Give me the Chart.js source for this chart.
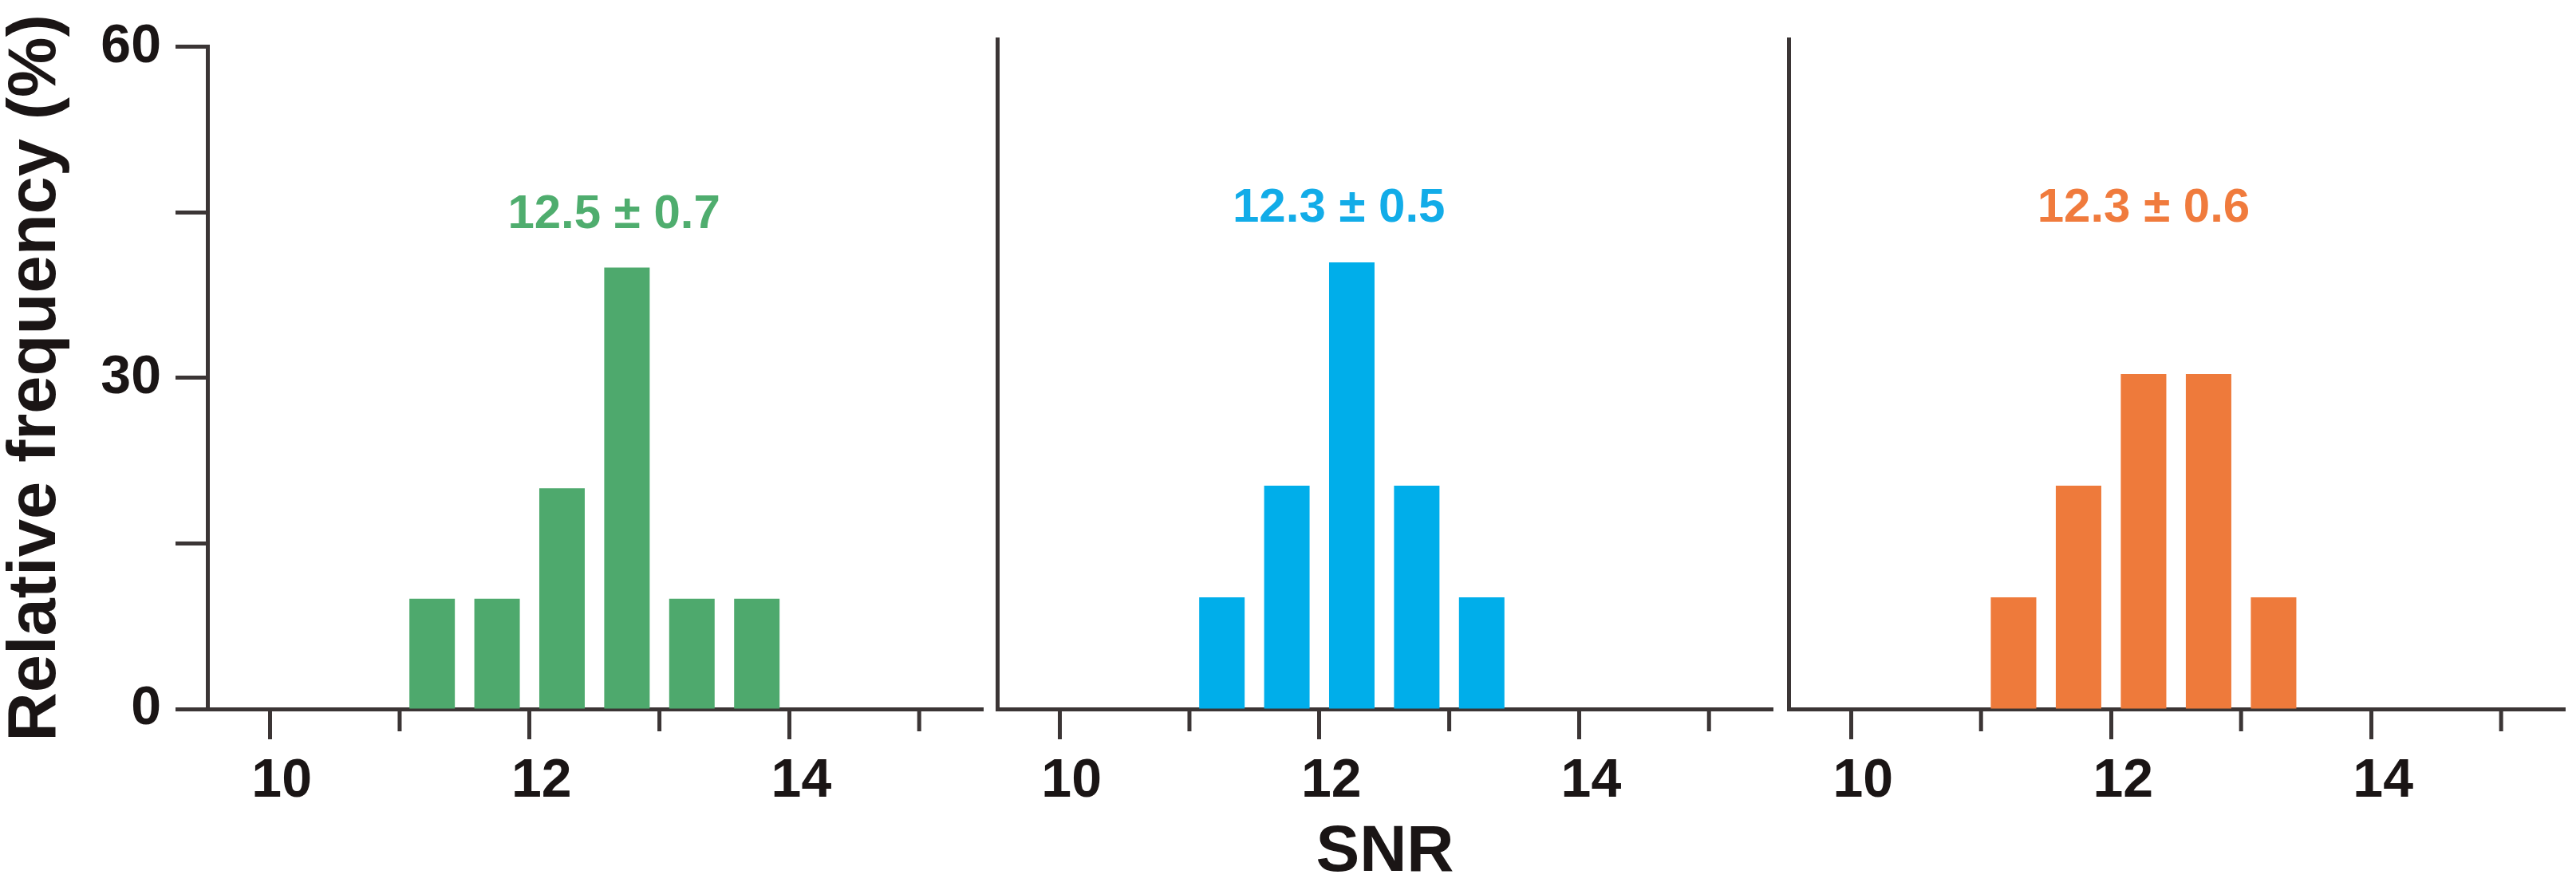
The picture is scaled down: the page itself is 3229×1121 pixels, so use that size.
<!DOCTYPE html>
<html>
<head>
<meta charset="utf-8">
<script src="https://cdn.jsdelivr.net/npm/chart.js@4.4.1/dist/chart.umd.min.js"></script>
<style>
  body { margin: 0; background: #fff; }
  #wrap { position: relative; width: 3229px; height: 1121px; background: #fff; }
  canvas { position: absolute; top: 0; }
</style>
</head>
<body>
<div id="wrap">
  <canvas id="c1" width="1240" height="1121" style="left:0px"></canvas>
  <canvas id="c2" width="990" height="1121" style="left:1240px"></canvas>
  <canvas id="c3" width="999" height="1121" style="left:2230px"></canvas>
</div>
<script>
// bin centres (SNR), bins are 0.5 wide
const snrBins = [11.25, 11.75, 12.25, 12.75, 13.25, 13.75];
const freqGreen = [10, 10, 20, 40, 10, 10];
const freqBlue = [10, 20, 40, 20, 10, 0];
const freqOrange = [10, 20, 30, 30, 10, 0];
const statText = ['12.5 ± 0.7', '12.3 ± 0.5', '12.3 ± 0.6'];
const snrTicks = [10, 11, 12, 13, 14, 15];
const freqTicks = [0, 15, 30, 45, 60];

const AXIS = '#3b3535';
const FONT = "'Liberation Sans', Arial, Helvetica, sans-serif";

// odd SNR ticks are shorter than the labelled ones
const minorTicks = {
    id: 'minorTicks',
    afterDraw(chart) {
        const x = chart.scales.x;
        const ctx = chart.ctx;
        const y0 = chart.chartArea.bottom;
        ctx.save();
        ctx.strokeStyle = AXIS;
        ctx.lineWidth = 5;
        snrTicks.filter(v => v % 2).forEach(v => {
            const px = x.getPixelForValue(v);
            ctx.beginPath();
            ctx.moveTo(px, y0);
            ctx.lineTo(px, y0 + 28);
            ctx.stroke();
        });
        ctx.restore();
    }
};

// mean ± sd above the histogram
const statLabel = {
    id: 'statLabel',
    afterDatasetsDraw(chart, args, opts) {
        const ctx = chart.ctx;
        ctx.save();
        ctx.font = 'bold 60px ' + FONT;
        ctx.fillStyle = opts.color;
        ctx.textAlign = 'center';
        ctx.textBaseline = 'middle';
        ctx.fillText(opts.text, chart.scales.x.getPixelForValue(opts.x), chart.scales.y.getPixelForValue(opts.y));
        ctx.restore();
    }
};

function makePanel(id, values, barColor, textColor, text, textX, p) {
    const ctx = document.getElementById(id).getContext('2d');
    return new Chart(ctx, {
        type: 'bar',
        data: {
            datasets: [{
                data: snrBins.map((b, i) => ({ x: b, y: values[i] })),
                backgroundColor: barColor,
                borderWidth: 0,
                barPercentage: 0.875,
                categoryPercentage: 0.8
            }]
        },
        plugins: [minorTicks, statLabel],
        options: {
            responsive: false,
            animation: false,
            events: [],
            layout: { padding: { left: 0, right: p.rightPad, top: 49, bottom: 0 } },
            plugins: {
                legend: { display: false },
                tooltip: { enabled: false },
                statLabel: { text: text, x: textX, y: 44.8, color: textColor }
            },
            scales: {
                x: {
                    type: 'linear',
                    min: 9.52,
                    max: 15.49,
                    offset: false,
                    afterBuildTicks: s => { s.ticks = snrTicks.map(v => ({ value: v })); },
                    afterFit: s => { s.height = 232; },
                    border: { display: true, color: AXIS, width: 5 },
                    grid: {
                        drawOnChartArea: false,
                        drawTicks: true,
                        tickLength: 38,
                        tickWidth: 5,
                        offset: false,
                        tickColor: c => (c.tick && c.tick.value % 2) ? 'rgba(0,0,0,0)' : AXIS
                    },
                    ticks: {
                        padding: 12,
                        labelOffset: 15,
                        color: '#1a1515',
                        font: { family: FONT, size: 68, weight: 'bold' },
                        maxRotation: 0,
                        autoSkip: false,
                        callback: v => (v % 2 === 0 ? String(v) : '')
                    },
                    title: {
                        display: p.xTitle,
                        text: 'SNR',
                        color: '#1a1515',
                        font: { family: FONT, size: 82, weight: 'bold' },
                        padding: { top: 0, bottom: 2 }
                    }
                },
                y: {
                    min: 0,
                    max: 60,
                    afterBuildTicks: s => { s.ticks = freqTicks.map(v => ({ value: v })); },
                    afterFit: s => { s.width = p.yWidth; },
                    border: { display: true, color: AXIS, width: 5 },
                    grid: {
                        drawOnChartArea: false,
                        drawTicks: p.yTicks,
                        tickLength: 40,
                        tickWidth: 5,
                        tickColor: AXIS
                    },
                    ticks: {
                        display: p.yTicks,
                        padding: 18,
                        color: '#1a1515',
                        font: { family: FONT, size: 68, weight: 'bold' },
                        autoSkip: false,
                        callback: v => (v % 30 === 0 ? String(v) : '')
                    },
                    title: {
                        display: p.yTitle,
                        text: 'Relative frequency (%)',
                        color: '#1a1515',
                        font: { family: FONT, size: 85, weight: 'bold' },
                        padding: { top: -5, bottom: 0 }
                    }
                }
            }
        }
    });
}

makePanel('c1', freqGreen, '#4ea96d', '#4fad6e', statText[0], 12.65,
    { rightPad: 8, yWidth: 260, yTicks: true, yTitle: true, xTitle: false });
makePanel('c2', freqBlue, '#00aeea', '#12ace8', statText[1], 12.15,
    { rightPad: 8, yWidth: 10, yTicks: false, yTitle: false, xTitle: true });
makePanel('c3', freqOrange, '#ee7a3b', '#f07b3d', statText[2], 12.25,
    { rightPad: 14, yWidth: 12, yTicks: false, yTitle: false, xTitle: false });
</script>
</body>
</html>
